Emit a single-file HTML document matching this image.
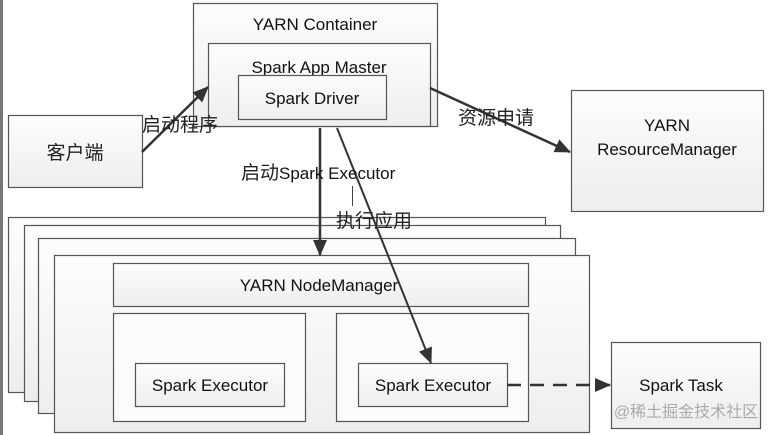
<!DOCTYPE html>
<html><head><meta charset="utf-8"><style>
html,body{margin:0;padding:0;background:#fff;}
svg{display:block;}
text{font-family:"Liberation Sans","Noto Sans CJK SC",sans-serif;font-size:17px;fill:#111;}
.c{font-size:19px;fill:#222;}
.b{stroke:#555;stroke-width:1.2;}
</style></head><body>
<svg width="772" height="435" viewBox="0 0 772 435" xmlns="http://www.w3.org/2000/svg">
<defs>
<linearGradient id="g" x1="0" y1="0" x2="0" y2="1"><stop offset="0" stop-color="#fdfdfd"/><stop offset="1" stop-color="#eeeeee"/></linearGradient>
<marker id="a2" markerWidth="16" markerHeight="14" refX="15" refY="7" orient="auto" markerUnits="userSpaceOnUse"><path d="M0,0 L16,7 L0,14 z" fill="#333"/></marker>
</defs>
<rect x="0" y="0" width="3" height="435" fill="#777"/>
<rect class="b" x="193.5" y="3.5" width="244" height="123" fill="url(#g)"/>
<text x="315" y="30" text-anchor="middle">YARN Container</text>
<rect class="b" x="208.5" y="43.5" width="222" height="83" fill="url(#g)"/>
<text x="319" y="73" text-anchor="middle">Spark App Master</text>
<rect class="b" x="238.5" y="75.5" width="148" height="44" fill="url(#g)"/>
<text x="312" y="104" text-anchor="middle">Spark Driver</text>
<rect class="b" x="8.5" y="115.5" width="134" height="72" fill="url(#g)"/>
<text x="75" y="159" text-anchor="middle" class="c">客户端</text>
<rect class="b" x="571.5" y="90.5" width="192" height="121" fill="url(#g)"/>
<text x="667" y="131" text-anchor="middle">YARN</text>
<text x="667" y="155" text-anchor="middle">ResourceManager</text>
<rect class="b" x="8.5" y="217.5" width="537" height="175" fill="url(#g)"/>
<rect class="b" x="24.5" y="225.5" width="536" height="176" fill="url(#g)"/>
<rect class="b" x="38.5" y="238.5" width="537" height="175" fill="url(#g)"/>
<rect class="b" x="54.5" y="255.5" width="535" height="177" fill="url(#g)"/>
<rect class="b" x="113.5" y="263.5" width="415" height="43" fill="url(#g)"/>
<text x="319" y="291" text-anchor="middle">YARN NodeManager</text>
<rect class="b" x="113.5" y="313.5" width="192" height="108" fill="#fbfbfb"/>
<rect class="b" x="336.5" y="313.5" width="192" height="108" fill="#fbfbfb"/>
<rect class="b" x="135.5" y="363.5" width="149" height="43" fill="url(#g)"/>
<text x="210" y="391" text-anchor="middle">Spark Executor</text>
<rect class="b" x="358.5" y="363.5" width="149" height="43" fill="url(#g)"/>
<text x="433" y="391" text-anchor="middle">Spark Executor</text>
<rect class="b" x="611.5" y="342.5" width="149" height="86" fill="url(#g)"/>
<text x="681" y="391" text-anchor="middle">Spark Task</text>
<text x="686" y="417" text-anchor="middle" style="font-size:16px;fill:#aaa">@稀土掘金技术社区</text>
<line x1="142" y1="152" x2="208" y2="87" stroke="#333" stroke-width="2.5" marker-end="url(#a2)"/>
<line x1="430" y1="88" x2="570" y2="152" stroke="#333" stroke-width="2.5" marker-end="url(#a2)"/>
<line x1="320" y1="128" x2="320" y2="255" stroke="#333" stroke-width="2.5" marker-end="url(#a2)"/>
<line x1="337" y1="128" x2="431" y2="363" stroke="#333" stroke-width="2" marker-end="url(#a2)"/>
<line x1="507" y1="385" x2="610" y2="385" stroke="#333" stroke-width="2.5" stroke-dasharray="14,9" marker-end="url(#a2)"/>
<line x1="352.5" y1="186" x2="352.5" y2="206" stroke="#444" stroke-width="1"/>
<text x="142" y="131" class="c">启动程序</text>
<text x="458" y="124" class="c">资源申请</text>
<text x="241" y="179"><tspan class="c">启动</tspan>Spark Executor</text>
<text x="336" y="227" class="c">执行应用</text>
</svg>
</body></html>
